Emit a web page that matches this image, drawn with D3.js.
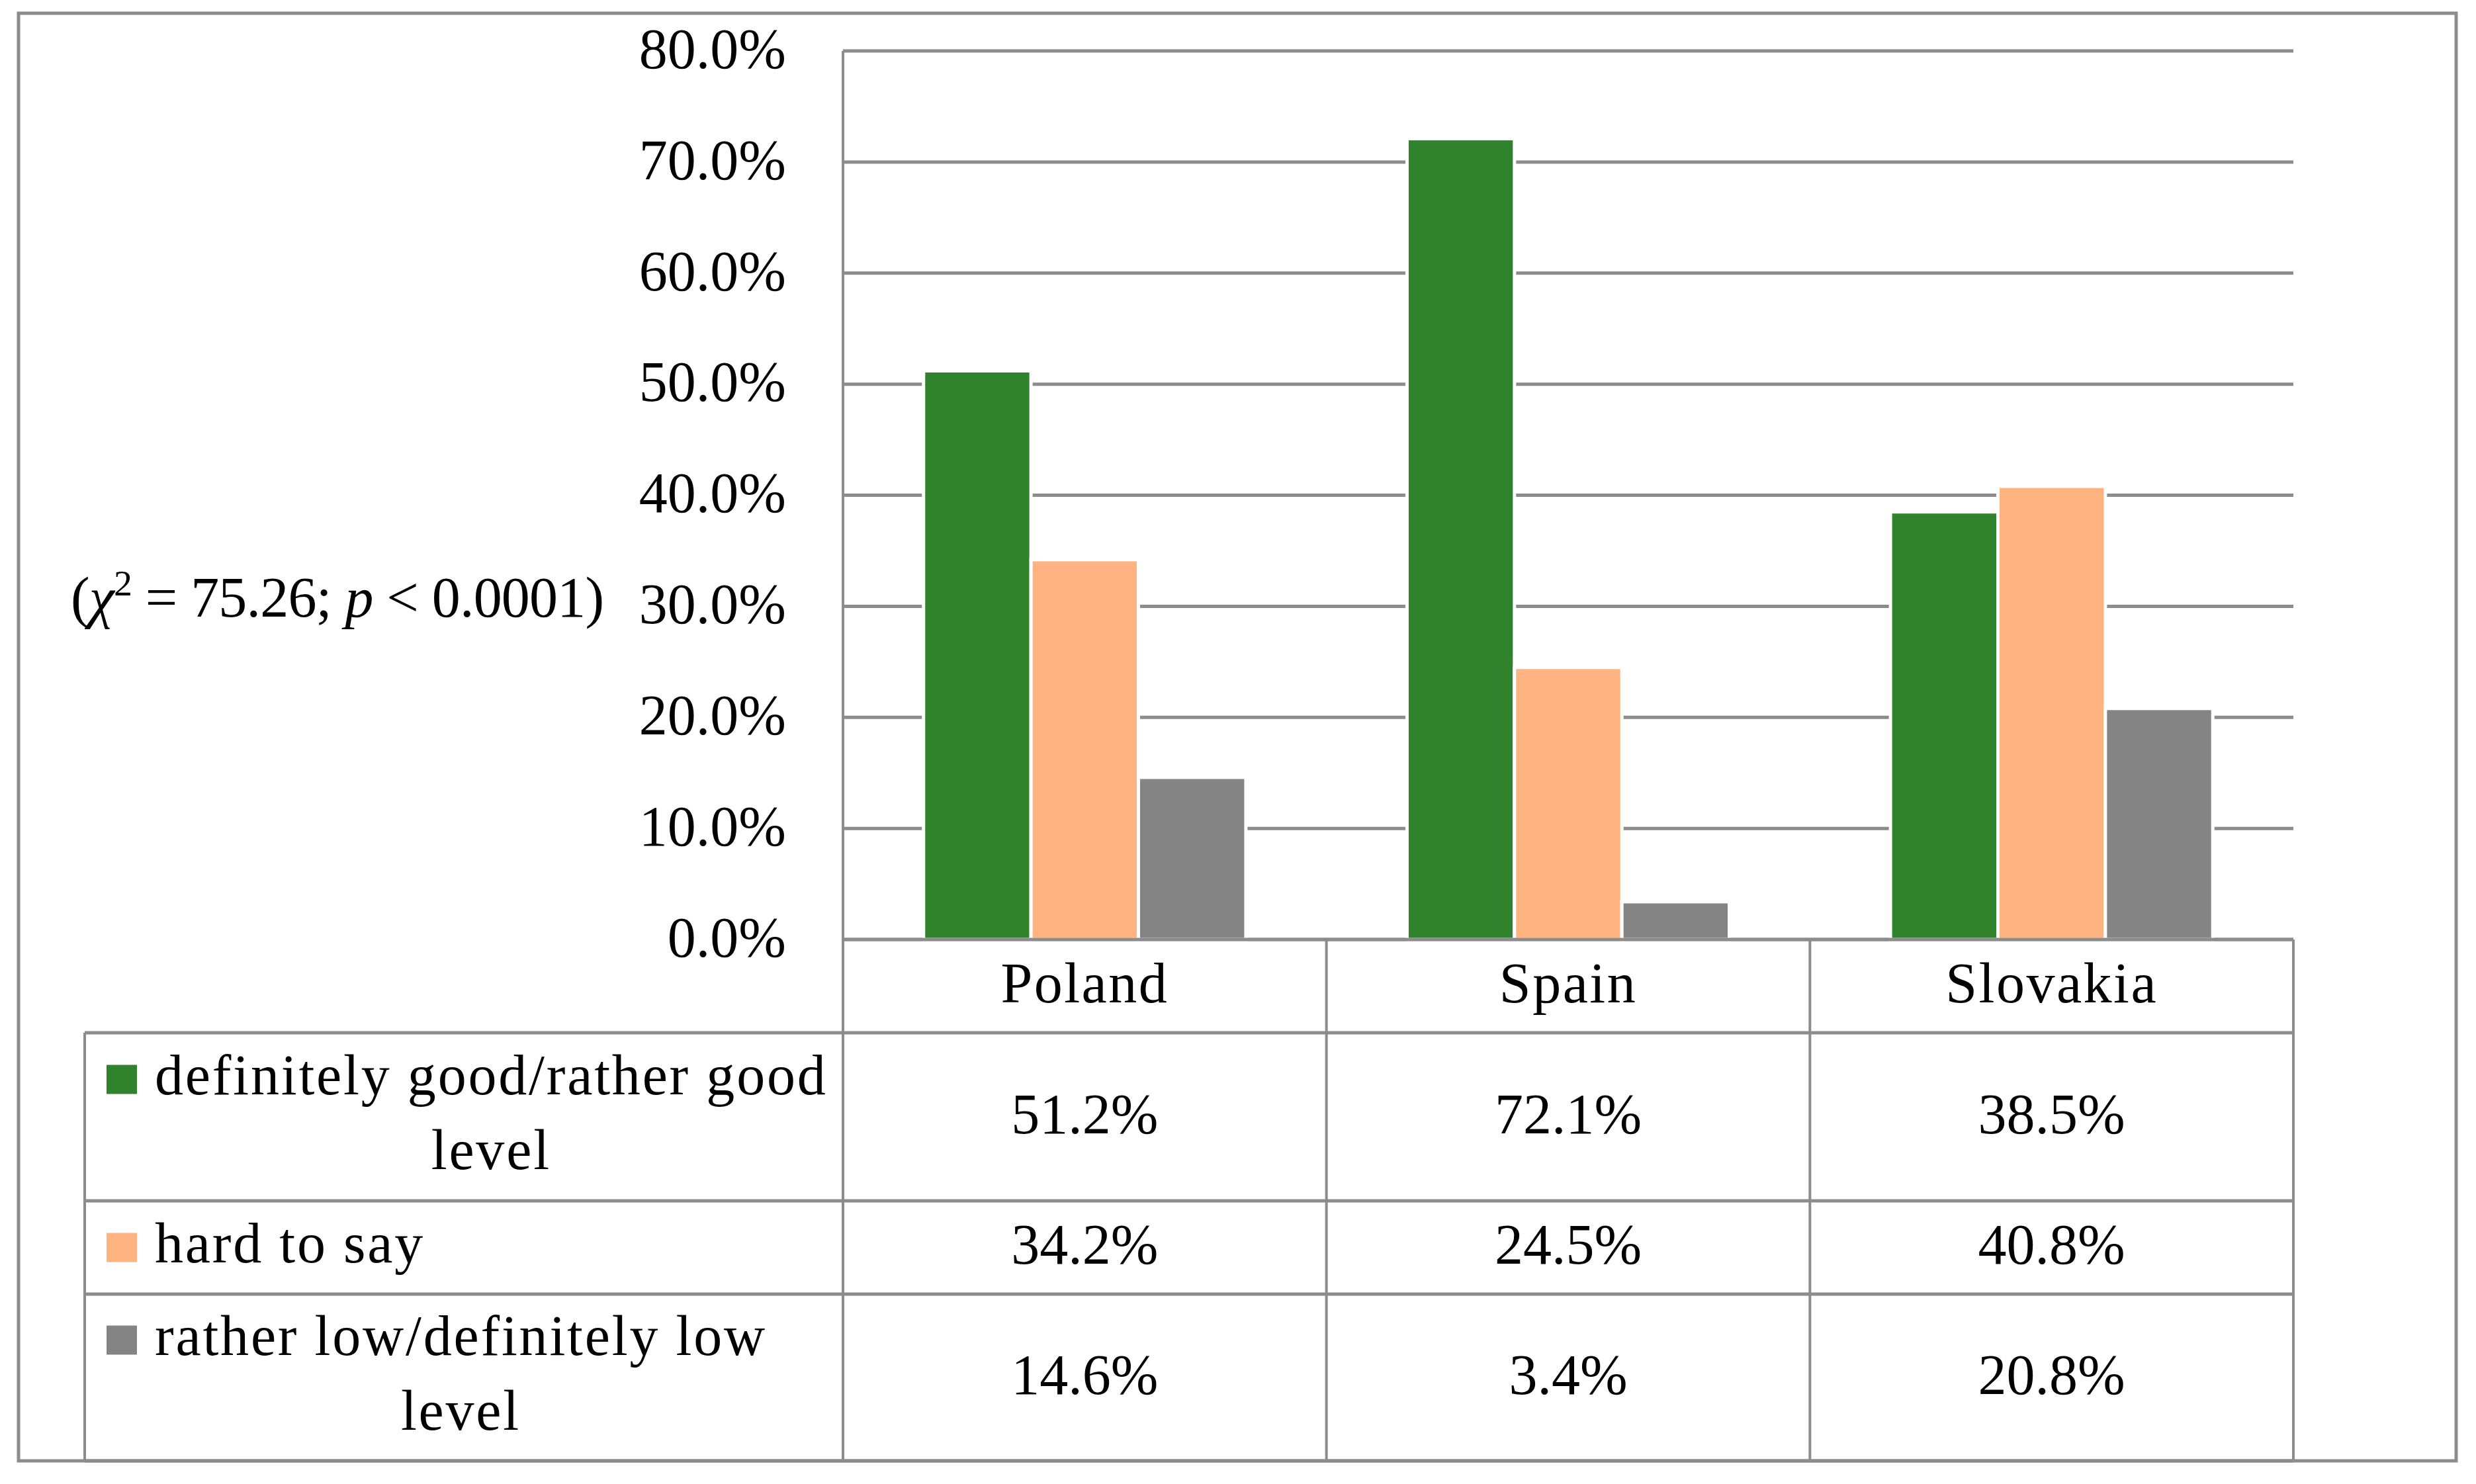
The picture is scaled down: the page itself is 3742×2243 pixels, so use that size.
<!DOCTYPE html>
<html>
<head>
<meta charset="utf-8">
<script src="https://cdn.jsdelivr.net/npm/d3@7"></script>
<style>
  html, body { margin: 0; padding: 0; background: #fff; }
  svg text { font-family: "Liberation Serif", "Times New Roman", serif; fill: #000; }
</style>
</head>
<body>
<svg id="chart"></svg>
<script>
// Opinion level by country, clustered bars + data table

const countries = ['Poland', 'Spain', 'Slovakia'];
const seriesNames = ['definitely good/rather good level', 'hard to say', 'rather low/definitely low level'];
const seriesLines = [['definitely good/rather good', 'level'], ['hard to say'], ['rather low/definitely low', 'level']];
const seriesColors = ['#31822c', '#ffb381', '#848484'];

const goodLevel = [51.2, 72.1, 38.5];
const hardToSay = [34.2, 24.5, 40.8];
const lowLevel = [14.6, 3.4, 20.8];
const seriesValues = [goodLevel, hardToSay, lowLevel];

const yTicks = [0, 10, 20, 30, 40, 50, 60, 70, 80];
const statText = ['(', 'χ', '2', ' = 75.26; ', 'p', ' < 0.0001)'];

const W = 3742, H = 2243;
const fontSize = 86;
const lineCol = '#8c8c8c';

const plotLeft = 1274, plotRight = 3466, plotTop = 77, plotBottom = 1420;
const tableLeft = 128;
const rowEdges = [1420, 1561, 1815, 1956, 2208];

const svg = d3.select('#chart')
    .attr('width', W)
    .attr('height', H);

svg.append('rect')
    .attr('width', W).attr('height', H)
    .attr('fill', '#fff');

// Outer frame
svg.append('rect')
    .attr('x', 28).attr('y', 20)
    .attr('width', 3712 - 28).attr('height', 2208 - 20)
    .attr('fill', 'none')
    .attr('stroke', lineCol)
    .attr('stroke-width', 5);

const x0 = d3.scaleBand()
    .domain(countries)
    .range([plotLeft, plotRight]);

// gap width 150% like the spreadsheet default
const x1 = d3.scaleBand()
    .domain(seriesNames)
    .range([x0.bandwidth() * 0.75 / 4.5, x0.bandwidth() * (1 - 0.75 / 4.5)]);

const y = d3.scaleLinear()
    .domain([0, 80])
    .range([plotBottom, plotTop]);

// Gridlines
svg.append('g')
    .selectAll('line')
    .data(yTicks)
    .enter()
    .append('line')
    .attr('x1', plotLeft)
    .attr('x2', plotRight)
    .attr('y1', d => y(d))
    .attr('y2', d => y(d))
    .attr('stroke', lineCol)
    .attr('stroke-width', 5);

// Tick labels
svg.append('g')
    .selectAll('text')
    .data(yTicks)
    .enter()
    .append('text')
    .attr('x', 1188)
    .attr('y', d => y(d))
    .attr('dy', '0.3em')
    .attr('text-anchor', 'end')
    .attr('font-size', fontSize)
    .text(d => d.toFixed(1) + '%');

// Bars
const groups = svg.append('g')
    .selectAll('g')
    .data(countries)
    .enter()
    .append('g')
    .attr('transform', d => `translate(${x0(d)},0)`);

groups.selectAll('rect')
    .data((c, ci) => seriesNames.map((s, si) => ({ s, si, v: seriesValues[si][ci] })))
    .enter()
    .append('rect')
    .attr('x', d => x1(d.s))
    .attr('width', x1.bandwidth())
    .attr('y', d => y(d.v))
    .attr('height', d => y(0) - y(d.v))
    .attr('fill', d => seriesColors[d.si])
    .attr('stroke', '#fff')
    .attr('stroke-width', 5);

// Table lines
const tl = svg.append('g')
    .attr('stroke', lineCol)
    .attr('stroke-width', 5);

rowEdges.forEach((ry, i) => {
    tl.append('line')
        .attr('x1', i === 0 ? plotLeft : tableLeft)
        .attr('x2', plotRight)
        .attr('y1', ry).attr('y2', ry);
});

tl.append('line')
    .attr('x1', plotLeft).attr('x2', plotLeft)
    .attr('y1', plotTop).attr('y2', rowEdges[4])
    .attr('stroke-width', 4);

tl.append('line')
    .attr('x1', tableLeft).attr('x2', tableLeft)
    .attr('y1', rowEdges[1]).attr('y2', rowEdges[4])
    .attr('stroke-width', 4);

countries.forEach(c => {
    tl.append('line')
        .attr('x1', x0(c) + x0.bandwidth()).attr('x2', x0(c) + x0.bandwidth())
        .attr('y1', rowEdges[0]).attr('y2', rowEdges[4])
        .attr('stroke-width', 4);
});

// Header row: country names
svg.append('g')
    .selectAll('text')
    .data(countries)
    .enter()
    .append('text')
    .attr('x', d => x0(d) + x0.bandwidth() / 2)
    .attr('y', (rowEdges[0] + rowEdges[1]) / 2)
    .attr('dy', '0.29em')
    .attr('text-anchor', 'middle')
    .attr('font-size', fontSize)
    .attr('letter-spacing', 2.5)
    .text(d => d);

// Value cells + legend cells
seriesNames.forEach((s, si) => {
    const cy = (rowEdges[si + 1] + rowEdges[si + 2]) / 2;

    svg.append('g')
        .selectAll('text')
        .data(seriesValues[si])
        .enter()
        .append('text')
        .attr('x', (d, ci) => x0(countries[ci]) + x0.bandwidth() / 2)
        .attr('y', cy)
        .attr('dy', '0.29em')
        .attr('text-anchor', 'middle')
        .attr('font-size', fontSize)
        .text(d => d.toFixed(1) + '%');

    const lines = seriesLines[si];
    const firstBase = cy + 22 - (lines.length - 1) * 113 / 2;

    svg.append('rect')
        .attr('x', 161)
        .attr('y', firstBase - 44)
        .attr('width', 46)
        .attr('height', 44)
        .attr('fill', seriesColors[si]);

    const lg = svg.append('g');
    const texts = lg.selectAll('text')
        .data(lines)
        .enter()
        .append('text')
        .attr('y', (d, i) => firstBase + i * 113)
        .attr('text-anchor', 'middle')
        .attr('font-size', fontSize)
        .attr('letter-spacing', 2.8)
        .text(d => d);

    const maxW = d3.max(texts.nodes(), n => n.getComputedTextLength());
    texts.attr('x', 234 + maxW / 2);
});

// Chi-square note
const note = svg.append('text')
    .attr('x', 107)
    .attr('y', 932)
    .attr('font-size', fontSize)
    .attr('letter-spacing', -0.8);

note.append('tspan').text(statText[0]);
note.append('tspan').attr('font-style', 'italic').text(statText[1]);
note.append('tspan').attr('font-size', fontSize * 0.65).attr('dy', -32).text(statText[2]);
note.append('tspan').attr('dy', 32).text(statText[3]);
note.append('tspan').attr('font-style', 'italic').text(statText[4]);
note.append('tspan').text(statText[5]);
</script>
</body>
</html>
